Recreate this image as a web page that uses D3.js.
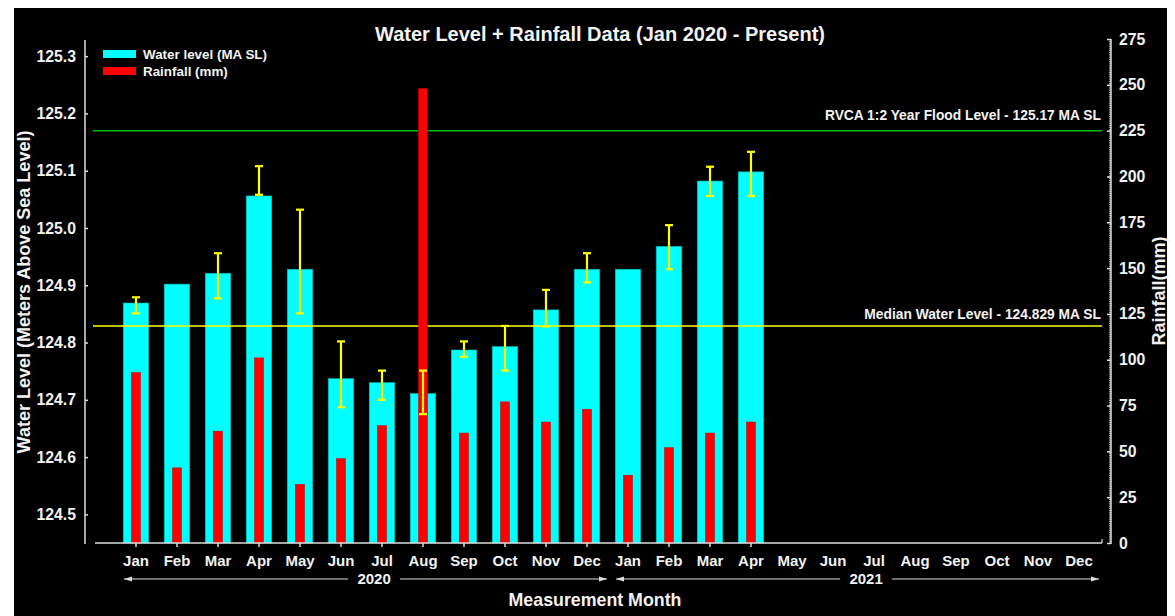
<!DOCTYPE html>
<html>
<head>
<meta charset="utf-8">
<script src="https://cdn.jsdelivr.net/npm/d3@7"></script>
<style>
  body { margin: 0; background: #fff; }
  svg { display: block; }
  text { font-family: "Liberation Sans", Arial, sans-serif; fill: #f2f2f2; }
</style>
</head>
<body>
<svg id="chart" width="1175" height="616"></svg>
<script>
// ---------- DATA ----------
const monthNames = ["Jan","Feb","Mar","Apr","May","Jun","Jul","Aug","Sep","Oct","Nov","Dec"];
const years = ["2020","2021"];
// measured months (Jan 2020 – Apr 2021)
const waterLevel = [124.869, 124.902, 124.921, 125.056, 124.928, 124.737, 124.730, 124.711,
                    124.787, 124.793, 124.857, 124.928, 124.928, 124.968, 125.082, 125.098];
const errHigh = [124.879, null, 124.956, 125.108, 125.032, 124.802, 124.751, 124.751,
                 124.802, 124.829, 124.892, 124.956, null, 125.005, 125.107, 125.133];
const errLow  = [124.851, null, 124.877, 125.058, 124.851, 124.687, 124.700, 124.675,
                 124.775, 124.751, 124.828, 124.905, null, 124.928, 125.056, 125.056];
const rainfall = [93, 41, 61, 101, 32, 46, 64, 248, 60, 77, 66, 73, 37, 52, 60, 66];
const leftTicks = [124.5, 124.6, 124.7, 124.8, 124.9, 125.0, 125.1, 125.2, 125.3];
const rightTicks = [0, 25, 50, 75, 100, 125, 150, 175, 200, 225, 250, 275];
const floodLevel = 125.17;
const medianLevel = 124.829;
const floodLabel = "RVCA 1:2 Year Flood Level - 125.17 MA SL";
const medianLabel = "Median Water Level - 124.829 MA SL";
const titleText = "Water Level + Rainfall Data (Jan 2020 - Present)";
const leftTitle = "Water Level (Meters Above Sea Level)";
const rightTitle = "Rainfall(mm)";
const xTitle = "Measurement Month";
const legendLabels = ["Water level (MA SL)", "Rainfall (mm)"];

// ---------- BUILD ----------
const categories = [];
years.forEach(y => monthNames.forEach(m => categories.push(y + "-" + m)));
const records = waterLevel.map((w, i) => ({
  key: categories[i], level: w, hi: errHigh[i], lo: errLow[i], rain: rainfall[i]
}));

const svg = d3.select("#chart");
svg.append("rect").attr("x", 14).attr("y", 8).attr("width", 1153).attr("height", 608).attr("fill", "#000");

const x = d3.scaleBand().domain(categories).range([115.5, 1099.5]);
const cx = k => x(k) + x.bandwidth() / 2;
const yL = d3.scaleLinear().domain([124.45, 125.33]).range([543, 39]);
const yR = d3.scaleLinear().domain([0, 275]).range([543, 39]);
const baseY = 543;

// cyan water-level bars
const cyanW = 25.5, redW = 9;
svg.append("g").selectAll("rect").data(records).join("rect")
  .attr("x", d => cx(d.key) - cyanW / 2)
  .attr("y", d => yL(d.level))
  .attr("width", cyanW)
  .attr("height", d => baseY - yL(d.level))
  .attr("fill", "#00ffff")
  .attr("stroke", "#00b4b4").attr("stroke-width", 0.6);

// reference lines
const lineX0 = 93, lineX1 = 1102;
svg.append("line").attr("x1", lineX0).attr("x2", lineX1)
  .attr("y1", yL(floodLevel)).attr("y2", yL(floodLevel))
  .attr("stroke", "#00c000").attr("stroke-width", 1.5);
svg.append("line").attr("x1", lineX0).attr("x2", lineX1)
  .attr("y1", yL(medianLevel)).attr("y2", yL(medianLevel))
  .attr("stroke", "#ffff00").attr("stroke-width", 1.5);

// red rainfall bars
svg.append("g").selectAll("rect").data(records).join("rect")
  .attr("x", d => cx(d.key) - redW / 2)
  .attr("y", d => yR(d.rain))
  .attr("width", redW)
  .attr("height", d => baseY - yR(d.rain))
  .attr("fill", "#ff0000")
  .attr("stroke", "#c00000").attr("stroke-width", 0.5);

// error bars
const eb = svg.append("g").attr("stroke", "#ffff00").attr("stroke-width", 2.2);
records.filter(d => d.hi != null).forEach(d => {
  const c = cx(d.key);
  eb.append("line").attr("x1", c).attr("x2", c).attr("y1", yL(d.hi)).attr("y2", yL(d.lo));
  eb.append("line").attr("x1", c - 4).attr("x2", c + 4).attr("y1", yL(d.hi)).attr("y2", yL(d.hi));
  eb.append("line").attr("x1", c - 4).attr("x2", c + 4).attr("y1", yL(d.lo)).attr("y2", yL(d.lo));
});

// reference labels
svg.append("text").attr("x", 1101).attr("y", 120).attr("text-anchor", "end")
  .attr("font-size", 13.8).attr("font-weight", "bold").text(floodLabel);
svg.append("text").attr("x", 1101).attr("y", 319).attr("text-anchor", "end")
  .attr("font-size", 13.8).attr("font-weight", "bold").text(medianLabel);

// ---------- AXES ----------
const axisColor = "#dcdcdc";
// left axis
const gL = svg.append("g").attr("transform", "translate(85,0)")
  .call(d3.axisLeft(yL).tickValues(leftTicks).tickFormat(d3.format(".1f"))
    .tickSizeInner(-3).tickSizeOuter(0).tickPadding(9));
gL.select(".domain").remove();
gL.append("line").attr("x1", 0).attr("x2", 0).attr("y1", 40).attr("y2", 544)
  .attr("stroke", axisColor).attr("stroke-width", 1.5);
gL.selectAll(".tick line").attr("stroke", axisColor).attr("stroke-width", 1.5);
gL.selectAll(".tick text").attr("font-size", 15.8).attr("font-weight", "bold")
  .attr("fill", "#f2f2f2").style("font-family", "Liberation Sans, Arial, sans-serif");

// right axis (minor then major)
const gRm = svg.append("g").attr("transform", "translate(1111,0)")
  .call(d3.axisRight(yR).tickValues(d3.range(0, 276, 1)).tickFormat("")
    .tickSizeInner(-2).tickSizeOuter(0));
gRm.select(".domain").remove();
gRm.selectAll(".tick line").attr("stroke", axisColor).attr("stroke-width", 0.8);
const gR = svg.append("g").attr("transform", "translate(1111,0)")
  .call(d3.axisRight(yR).tickValues(rightTicks).tickSizeInner(-4).tickSizeOuter(0).tickPadding(8));
gR.select(".domain").remove();
gR.append("line").attr("x1", 0).attr("x2", 0).attr("y1", 39).attr("y2", 544)
  .attr("stroke", axisColor).attr("stroke-width", 1.5);
gR.selectAll(".tick line").attr("stroke", axisColor).attr("stroke-width", 1.5);
gR.selectAll(".tick text").attr("font-size", 15.8).attr("font-weight", "bold")
  .attr("fill", "#f2f2f2").style("font-family", "Liberation Sans, Arial, sans-serif");

// bottom axis
const dataKeys = new Set(records.map(d => d.key));
const gB = svg.append("g").attr("transform", `translate(0,${baseY})`)
  .call(d3.axisBottom(x).tickFormat(k => k.split("-")[1]).tickSizeInner(4).tickSizeOuter(0).tickPadding(8));
gB.select(".domain").remove();
gB.append("line").attr("x1", 95).attr("x2", 1102).attr("y1", 0).attr("y2", 0)
  .attr("stroke", axisColor).attr("stroke-width", 1.5);
gB.append("line").attr("x1", 1102).attr("x2", 1102).attr("y1", 0).attr("y2", -4)
  .attr("stroke", axisColor).attr("stroke-width", 1.2);
gB.selectAll(".tick line").attr("stroke", axisColor).attr("stroke-width", 1.5)
  .attr("opacity", k => dataKeys.has(k) ? 1 : 0);
gB.selectAll(".tick text").attr("font-size", 15).attr("font-weight", "bold")
  .attr("fill", "#f2f2f2").style("font-family", "Liberation Sans, Arial, sans-serif");

// year spans with arrows
const defs = svg.append("defs");
defs.append("marker").attr("id", "arrR").attr("viewBox", "0 0 8 6").attr("refX", 8).attr("refY", 3)
  .attr("markerWidth", 8).attr("markerHeight", 6).attr("markerUnits", "userSpaceOnUse").attr("orient", "auto")
  .append("path").attr("d", "M0,0.5 L8,3 L0,5.5 Z").attr("fill", axisColor);
defs.append("marker").attr("id", "arrL").attr("viewBox", "0 0 8 6").attr("refX", 0).attr("refY", 3)
  .attr("markerWidth", 8).attr("markerHeight", 6).attr("markerUnits", "userSpaceOnUse").attr("orient", "auto")
  .append("path").attr("d", "M8,0.5 L0,3 L8,5.5 Z").attr("fill", axisColor);

const yearY = 579;
years.forEach(yr => {
  const first = cx(yr + "-Jan"), last = cx(yr + "-Dec");
  const x0 = first - 12, x1 = last + 20;
  const mid = first + (last - first) * 0.528;
  svg.append("text").attr("x", mid).attr("y", yearY + 5).attr("text-anchor", "middle")
    .attr("font-size", 15).attr("font-weight", "bold").text(yr);
  svg.append("line").attr("x1", x0).attr("x2", mid - 26).attr("y1", yearY).attr("y2", yearY)
    .attr("stroke", axisColor).attr("stroke-width", 1.2).attr("marker-start", "url(#arrL)");
  svg.append("line").attr("x1", mid + 26).attr("x2", x1).attr("y1", yearY).attr("y2", yearY)
    .attr("stroke", axisColor).attr("stroke-width", 1.2).attr("marker-end", "url(#arrR)");
});

// titles
svg.append("text").attr("x", 600).attr("y", 41).attr("text-anchor", "middle")
  .attr("font-size", 20).attr("font-weight", "bold").text(titleText);
svg.append("text").attr("x", 595).attr("y", 606).attr("text-anchor", "middle")
  .attr("font-size", 17.8).attr("font-weight", "bold").text(xTitle);
svg.append("text").attr("transform", "translate(30,292) rotate(-90)").attr("text-anchor", "middle")
  .attr("font-size", 18).attr("font-weight", "bold").text(leftTitle);
svg.append("text").attr("transform", "translate(1165,291) rotate(-90)").attr("text-anchor", "middle")
  .attr("font-size", 18).attr("font-weight", "bold").text(rightTitle);

// legend
const legend = svg.append("g");
const legColors = ["#00ffff", "#ff0000"];
legendLabels.forEach((lab, i) => {
  legend.append("rect").attr("x", 103).attr("y", 50 + i * 17).attr("width", 33).attr("height", 8)
    .attr("fill", legColors[i]);
  legend.append("text").attr("x", 143).attr("y", 59 + i * 17)
    .attr("font-size", 13.4).attr("font-weight", "bold").text(lab);
});
</script>
</body>
</html>
